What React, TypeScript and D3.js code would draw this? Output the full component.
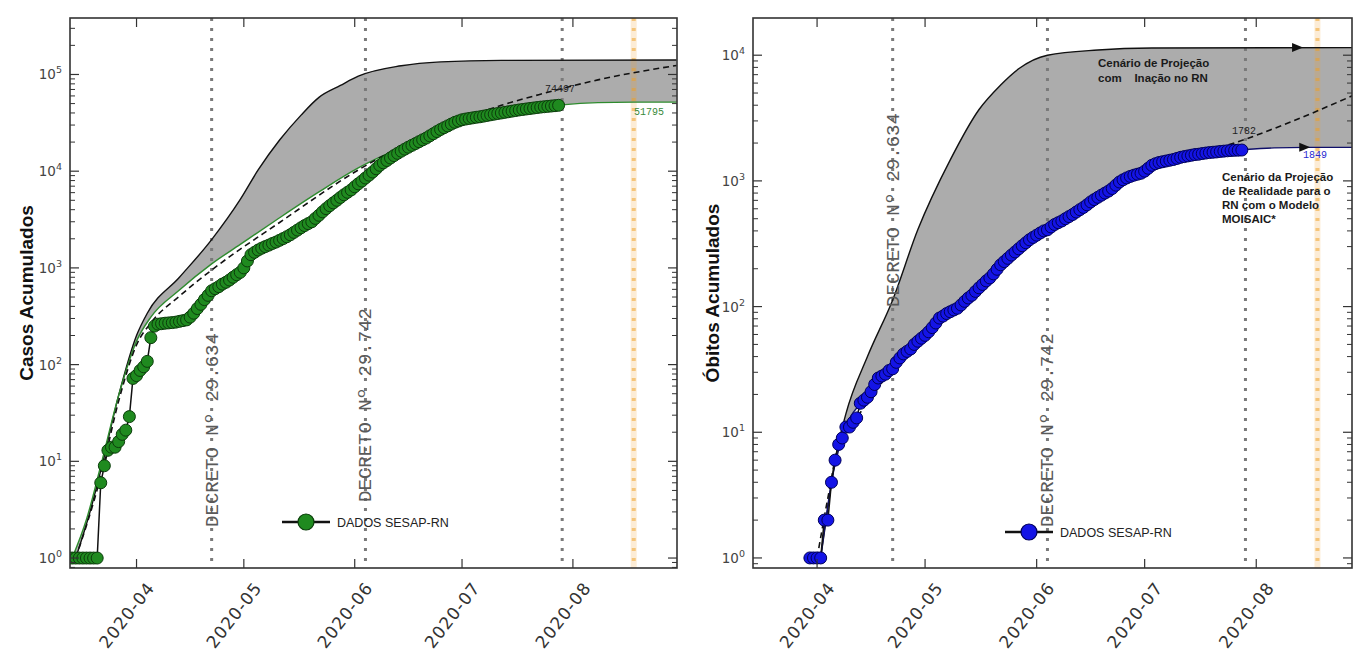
import React from "react";
import * as d3 from "d3";

type Pt = [string, number];

const parse = d3.timeParse("%Y-%m-%d");
const dia = (s: string) => parse(s) as Date;
const desloca = (s: string, dias: number) => new Date(dia(s).getTime() + dias * 864e5);

// ---------------- Casos (painel esquerdo) ----------------
const casosInicio = "2020-03-13";
const casosSesap = [
  1, 1, 1, 1, 1, 1, 1, 1, 1,
  6, 9, 13, 14, 14, 16, 19, 21, 29, 72,
  77, 87, 95, 108, 190, 250, 262, 265, 268, 270, 272, 275, 280, 285, 290, 310, 340, 380, 420, 470,
  520, 580, 610, 640, 680, 710, 750, 800, 850, 900,
  1000, 1180, 1370, 1450, 1530, 1600, 1660, 1720, 1790, 1850, 1930, 2010, 2100, 2200, 2330, 2460,
  2600, 2740, 2870, 3000, 3250, 3500, 3800, 4100, 4400, 4700, 5000, 5350, 5700, 6050, 6400,
  6900, 7400, 7900, 8500, 9100, 9800, 10600, 11500, 12200, 12900, 13700, 14500, 15300, 16100, 16900,
  17700, 18500, 19300, 20200, 21100, 22000, 23200, 24400, 25700, 27000, 28200, 29400, 30700, 32000, 33000,
  34000, 34600, 35100, 35600, 36100, 36500, 37100, 37700, 38300, 38900, 39500, 40000, 40600, 41200, 41800,
  42400, 43000, 43500, 44000, 44500, 45000, 45500, 46000, 46400, 46800, 47200, 47600, 48000,
];
const casosInacao: Pt[] = [
  ["2020-03-15", 1], ["2020-03-19", 3], ["2020-03-22", 8], ["2020-03-27", 48], ["2020-04-01", 200],
  ["2020-04-04", 340], ["2020-04-13", 800], ["2020-04-22", 1960], ["2020-04-30", 5100], ["2020-05-05", 10300],
  ["2020-05-11", 21000], ["2020-05-17", 38000], ["2020-05-22", 58000], ["2020-05-28", 77000], ["2020-06-02", 96000],
  ["2020-06-14", 123000], ["2020-06-25", 135000], ["2020-07-12", 140000], ["2020-08-30", 141000],
];
const casosAjuste: Pt[] = [
  ["2020-03-14", 1], ["2020-03-18", 2.5], ["2020-03-22", 9], ["2020-03-27", 48], ["2020-04-01", 175],
  ["2020-04-05", 310], ["2020-04-13", 590], ["2020-04-22", 1100], ["2020-04-30", 1750], ["2020-05-11", 3300],
  ["2020-05-22", 6100], ["2020-06-02", 10800], ["2020-06-14", 17500], ["2020-06-25", 25000], ["2020-07-06", 34000],
  ["2020-07-18", 42500], ["2020-07-29", 48500], ["2020-08-08", 51200], ["2020-08-18", 51750], ["2020-08-30", 51795],
];
const casosTracejada: Pt[] = [
  ["2020-03-15", 1], ["2020-03-22", 7], ["2020-03-27", 42], ["2020-04-01", 160], ["2020-04-05", 270],
  ["2020-04-13", 510], ["2020-04-22", 950], ["2020-05-11", 2950], ["2020-06-02", 10300], ["2020-06-25", 28000],
  ["2020-07-12", 48000], ["2020-07-24", 64000], ["2020-08-08", 88000], ["2020-08-30", 124000],
];
const casosRotulos = { tracejada: "74497", final: "51795" };

// ---------------- Óbitos (painel direito) ----------------
const obitosInicio = "2020-03-30";
const obitosSesap = [
  1, 1, 1, 1,
  2, 2, 4, 6, 8, 9, 11, 11, 12, 13, 17, 18, 19, 21, 24, 27, 28, 29, 31, 32, 36, 39, 42, 44, 46, 50, 53, 56,
  59, 63, 68, 74, 81, 84, 88, 91, 94, 97, 103, 110, 117, 123, 132, 141, 150, 160, 169, 182, 198, 215, 228,
  242, 257, 272, 288, 305, 322, 340, 355,
  370, 385, 400, 408, 430, 450, 465, 480, 500, 520, 540, 565, 590, 615, 645, 680, 710, 740, 770, 800, 830,
  870, 925, 980, 1020, 1055, 1085, 1110, 1130, 1150,
  1195, 1260, 1330, 1370, 1400, 1420, 1440, 1460, 1480, 1510, 1540, 1560, 1580, 1600, 1620, 1630, 1650,
  1665, 1680, 1690, 1700, 1715, 1725, 1735, 1745, 1750, 1755, 1760,
];
const obitosInacao: Pt[] = [
  ["2020-04-02", 1], ["2020-04-04", 2.5], ["2020-04-06", 6], ["2020-04-09", 14], ["2020-04-15", 40],
  ["2020-04-22", 113], ["2020-04-29", 410], ["2020-05-08", 1470], ["2020-05-16", 3700], ["2020-05-22", 5800],
  ["2020-05-27", 7800], ["2020-06-04", 10000], ["2020-06-18", 11000], ["2020-07-03", 11400], ["2020-08-28", 11500],
];
const obitosAjuste: Pt[] = [
  ["2020-04-02", 1], ["2020-04-05", 4], ["2020-04-09", 11], ["2020-04-15", 19], ["2020-04-22", 32],
  ["2020-05-01", 59], ["2020-05-10", 97], ["2020-05-20", 182], ["2020-05-30", 340], ["2020-06-10", 520],
  ["2020-06-20", 800], ["2020-07-01", 1195], ["2020-07-10", 1510], ["2020-07-20", 1690], ["2020-07-29", 1775],
  ["2020-08-06", 1830], ["2020-08-15", 1849], ["2020-08-28", 1849],
];
const obitosTracejada: Pt[] = [
  ["2020-04-01", 1], ["2020-04-04", 3], ["2020-04-07", 8], ["2020-04-12", 13], ["2020-04-22", 32],
  ["2020-05-10", 97], ["2020-05-30", 340], ["2020-06-20", 800], ["2020-07-05", 1400], ["2020-07-15", 1640],
  ["2020-07-22", 1850], ["2020-07-29", 2150], ["2020-08-10", 2900], ["2020-08-28", 4800],
];
const obitosRotulos = { tracejada: "1782", final: "1849" };
const obitosSetas: Pt[] = [["2020-08-14", 11500], ["2020-08-16", 1849]];

// ---------------- Comuns ----------------
const decretos = [
  { data: "2020-04-22", texto: "DECRETO Nº 29.634" },
  { data: "2020-06-04", texto: "DECRETO Nº 29.742" },
];
const linhaFinalDados = "2020-07-29";
const linhaLaranja = "2020-08-18";
const legendaTexto = "DADOS SESAP-RN";

interface Cfg {
  id: string;
  x0: number; x1: number; y0: number; y1: number;
  xDom: [Date, Date]; yDom: [number, number];
  dadosInicio: string; dados: number[];
  inacao: Pt[]; ajuste: Pt[]; tracejada: Pt[];
  cor: string; borda: string; corAjuste: string;
  ylabel: string; ylabelX: number;
  decretoY: number[]; decretoDx: number;
  legenda: { x: number; y: number };
  rotTrac: { t: string; x: number; y: number };
  rotFinal: { t: string; x: number; y: number; cor: string };
  setas?: Pt[];
  notas?: React.ReactNode;
}

function Painel(c: Cfg) {
  const x = d3.scaleTime().domain(c.xDom).range([c.x0, c.x1]);
  const y = d3.scaleLog().domain(c.yDom).range([c.y1, c.y0]);
  const line = d3.line<Pt>().x((d) => x(dia(d[0]))).y((d) => y(d[1])).curve(d3.curveMonotoneX);
  const pts = c.dados.map((v, i) => ({ d: d3.timeDay.offset(dia(c.dadosInicio), i), v }));
  const dataLine = d3.line<{ d: Date; v: number }>().x((p) => x(p.d)).y((p) => y(p.v));

  const up = line(c.inacao) as string;
  const lo = (line(c.ajuste.slice().reverse()) as string).replace(/^M/, "L");
  const area = up + lo + "Z";

  const kmin = Math.ceil(Math.log10(c.yDom[0]));
  const kmax = Math.floor(Math.log10(c.yDom[1]));
  const majors = d3.range(kmin, kmax + 1);
  const minors: number[] = [];
  for (let k = kmin - 1; k <= kmax; k++)
    for (let m = 2; m <= 9; m++) {
      const v = m * Math.pow(10, k);
      if (v > c.yDom[0] && v < c.yDom[1]) minors.push(v);
    }
  const meses = x.ticks(d3.timeMonth);
  const fmt = d3.timeFormat("%Y-%m");
  const clip = `clip-${c.id}`;
  const spine = "#333";
  const xl = (s: string) => x(dia(s));

  return (
    <g>
      <defs>
        <clipPath id={clip}>
          <rect x={c.x0} y={c.y0} width={c.x1 - c.x0} height={c.y1 - c.y0} />
        </clipPath>
      </defs>
      <g clipPath={`url(#${clip})`}>
        <path d={area} fill="#acacac" stroke="none" />
        <rect x={xl(linhaLaranja) - 3} y={c.y0} width={6} height={c.y1 - c.y0} fill="#f0a030" opacity={0.2} />
        <line x1={xl(linhaLaranja)} x2={xl(linhaLaranja)} y1={c.y0} y2={c.y1}
          stroke="#f0a020" strokeWidth={4} strokeDasharray="3 7" opacity={0.5} />
        {[...decretos.map((d) => d.data), linhaFinalDados].map((d) => (
          <line key={d} x1={xl(d)} x2={xl(d)} y1={c.y0} y2={c.y1}
            stroke="#7a7a7a" strokeWidth={3} strokeDasharray="3 7" />
        ))}
        <path d={up} fill="none" stroke="#111" strokeWidth={1.4} />
        <path d={line(c.ajuste) as string} fill="none" stroke={c.corAjuste} strokeWidth={1.4} />
        <path d={line(c.tracejada) as string} fill="none" stroke="#111" strokeWidth={1.6} strokeDasharray="6 4" />
        <path d={dataLine(pts) as string} fill="none" stroke="#111" strokeWidth={1.5} />
        {pts.map((p, i) => (
          <circle key={i} cx={x(p.d)} cy={y(p.v)} r={6} fill={c.cor} stroke={c.borda} strokeWidth={1} />
        ))}
        {(c.setas || []).map((s, i) => {
          const sx = xl(s[0]), sy = y(s[1]);
          return <polygon key={i} points={`${sx - 11},${sy - 4.5} ${sx},${sy} ${sx - 11},${sy + 4.5}`} fill="#111" />;
        })}
      </g>
      {decretos.map((d, i) => (
        <text key={d.data} transform={`translate(${xl(d.data) + c.decretoDx},${c.decretoY[i]}) rotate(-90)`}
          textAnchor="middle" fontFamily="'Liberation Mono', monospace" fontSize={19} fill="#5a5a5a">
          {d.texto}
        </text>
      ))}
      <text x={c.rotTrac.x} y={c.rotTrac.y} fontFamily="'Liberation Mono', monospace" fontSize={10} fill="#222">
        {c.rotTrac.t}
      </text>
      <text x={c.rotFinal.x} y={c.rotFinal.y} fontFamily="'Liberation Mono', monospace" fontSize={10} fill={c.rotFinal.cor}>
        {c.rotFinal.t}
      </text>
      {c.notas}
      {/* spines */}
      <rect x={c.x0} y={c.y0} width={c.x1 - c.x0} height={c.y1 - c.y0} fill="none" stroke={spine} strokeWidth={1.6} />
      {majors.map((k) => (
        <g key={k}>
          <line x1={c.x0} x2={c.x0 + 9} y1={y(Math.pow(10, k))} y2={y(Math.pow(10, k))} stroke={spine} strokeWidth={1.2} />
          <line x1={c.x1} x2={c.x1 - 9} y1={y(Math.pow(10, k))} y2={y(Math.pow(10, k))} stroke={spine} strokeWidth={1.2} />
          <text x={c.x0 - 8} y={y(Math.pow(10, k)) + 5} textAnchor="end" fontSize={13.5} fill="#444">
            10<tspan dy={-6} fontSize={9.5}>{k}</tspan>
          </text>
        </g>
      ))}
      {minors.map((v, i) => (
        <g key={i}>
          <line x1={c.x0} x2={c.x0 + 5} y1={y(v)} y2={y(v)} stroke={spine} strokeWidth={1} />
          <line x1={c.x1} x2={c.x1 - 5} y1={y(v)} y2={y(v)} stroke={spine} strokeWidth={1} />
        </g>
      ))}
      {meses.map((m) => (
        <g key={+m}>
          <line x1={x(m)} x2={x(m)} y1={c.y1} y2={c.y1 - 9} stroke={spine} strokeWidth={1.2} />
          <line x1={x(m)} x2={x(m)} y1={c.y0} y2={c.y0 + 9} stroke={spine} strokeWidth={1.2} />
          <text transform={`translate(${x(m) + 19},${c.y1 + 20}) rotate(-52)`} textAnchor="end"
            fontSize={17} letterSpacing={1} fill="#333">
            {fmt(m)}
          </text>
        </g>
      ))}
      <text transform={`translate(${c.ylabelX},${(c.y0 + c.y1) / 2}) rotate(-90)`} textAnchor="middle"
        fontFamily="'Liberation Sans', Arial, sans-serif" fontWeight="bold" fontSize={19} fill="#111">
        {c.ylabel}
      </text>
      {/* legenda */}
      <line x1={c.legenda.x} x2={c.legenda.x + 48} y1={c.legenda.y} y2={c.legenda.y} stroke="#111" strokeWidth={2.5} />
      <circle cx={c.legenda.x + 24} cy={c.legenda.y} r={8} fill={c.cor} stroke={c.borda} strokeWidth={1.2} />
      <text x={c.legenda.x + 55} y={c.legenda.y + 5} fontFamily="'Liberation Sans', Arial, sans-serif" fontSize={12.5} fill="#222">
        {legendaTexto}
      </text>
    </g>
  );
}

const notaFonte = { fontFamily: "'Liberation Sans', Arial, sans-serif", fontWeight: 700, fontSize: 11.5, fill: "#1a1a1a" } as const;

export default function App() {
  const esquerda: Cfg = {
    id: "casos",
    x0: 70, x1: 677, y0: 18, y1: 568,
    xDom: [desloca("2020-04-01", -18.6), desloca("2020-04-01", 151.1)],
    yDom: [Math.pow(10, -0.103), Math.pow(10, 5.584)],
    dadosInicio: casosInicio, dados: casosSesap,
    inacao: casosInacao, ajuste: casosAjuste, tracejada: casosTracejada,
    cor: "#1f8a1f", borda: "#0b3d0b", corAjuste: "#2e8b2e",
    ylabel: "Casos Acumulados", ylabelX: 33,
    decretoY: [430, 405], decretoDx: 6,
    legenda: { x: 282, y: 522 },
    rotTrac: { t: casosRotulos.tracejada, x: 545, y: 92 },
    rotFinal: { t: casosRotulos.final, x: 634, y: 115, cor: "#3a8a3a" },
  };
  const direita: Cfg = {
    id: "obitos",
    x0: 753, x1: 1352, y0: 18, y1: 568,
    xDom: [desloca("2020-04-01", -17.8), desloca("2020-04-01", 148.6)],
    yDom: [Math.pow(10, -0.08), Math.pow(10, 4.296)],
    dadosInicio: obitosInicio, dados: obitosSesap,
    inacao: obitosInacao, ajuste: obitosAjuste, tracejada: obitosTracejada,
    cor: "#1414e6", borda: "#00005a", corAjuste: "#10106a",
    ylabel: "Óbitos Acumulados", ylabelX: 719,
    decretoY: [210, 430], decretoDx: 6,
    legenda: { x: 1005, y: 532 },
    rotTrac: { t: obitosRotulos.tracejada, x: 1232, y: 134 },
    rotFinal: { t: obitosRotulos.final, x: 1303, y: 158, cor: "#2a2ad0" },
    setas: obitosSetas,
    notas: (
      <g>
        <text x={1098} y={67} {...notaFonte}>Cenário de  Projeção</text>
        <text x={1098} y={82} {...notaFonte} xmlSpace="preserve">com    Inação no RN</text>
        <text x={1222} y={181} {...notaFonte}>Cenário da Projeção</text>
        <text x={1222} y={195} {...notaFonte}>de Realidade para o</text>
        <text x={1222} y={209} {...notaFonte}>RN com o Modelo</text>
        <text x={1222} y={223} {...notaFonte}>MOISAIC*</text>
      </g>
    ),
  };
  return (
    <svg width={1354} height={652} style={{ position: "absolute", left: 0, top: 0, background: "#fff" }}
      fontFamily="'DejaVu Sans', sans-serif">
      <Painel {...esquerda} />
      <Painel {...direita} />
    </svg>
  );
}
